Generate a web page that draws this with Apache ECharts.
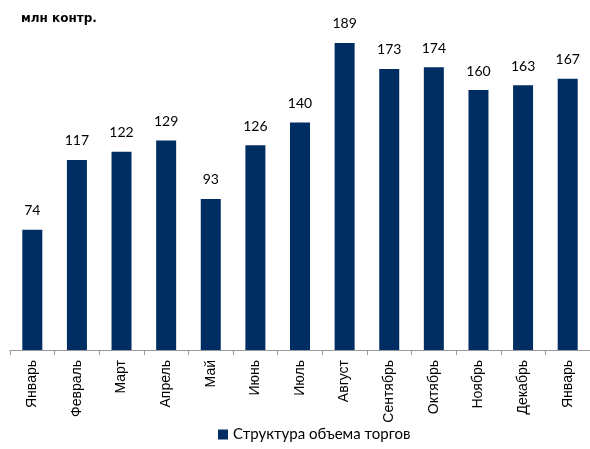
<!DOCTYPE html>
<html><head><meta charset="utf-8">
<script src="https://cdn.jsdelivr.net/npm/echarts@6/dist/echarts.min.js"></script>
<style>html,body{margin:0;padding:0;background:#fff}#c{width:590px;height:449px}</style>
</head><body><div id="c"></div>
<script>
const categories = ['Январь','Февраль','Март','Апрель','Май','Июнь','Июль','Август','Сентябрь','Октябрь','Ноябрь','Декабрь','Январь'];
const values = [74,117,122,129,93,126,140,189,173,174,160,163,167];
const seriesName = 'Структура объема торгов';
const unitTitle = 'млн контр.';

const chart = echarts.init(document.getElementById('c'));
chart.setOption({
  animation: false,
  title: {text: unitTitle, left: 16, top: 8, textStyle: {fontFamily: 'DejaVu Sans', fontWeight: 'bold', fontSize: 12, color: '#000'}},
  grid: {left: 10, right: -13, top: 25, bottom: 99, containLabel: false},
  legend: {top: 427, left: 218, padding: 0, itemWidth: 10, itemHeight: 10, itemGap: 4,
    icon: 'rect', textStyle: {fontFamily: 'Lato', fontSize: 15, color: '#000'}, data: [seriesName]},
  xAxis: {type: 'category', data: categories,
    axisLine: {lineStyle: {color: '#999', width: 1}},
    axisTick: {show: true, lineStyle: {color: '#999'}, length: 5},
    axisLabel: {rotate: 90, interval: 0, fontFamily: 'Liberation Sans', fontSize: 14, color: '#000', margin: 10}},
  yAxis: {type: 'value', min: 0, max: 200, show: false, splitLine: {show: false}},
  series: [{name: seriesName, type: 'bar', data: values, barWidth: 20,
    itemStyle: {color: '#002D62'},
    label: {show: true, position: 'top', distance: 12, fontFamily: 'Lato', fontSize: 14, color: '#000'}}]
});
</script></body></html>
